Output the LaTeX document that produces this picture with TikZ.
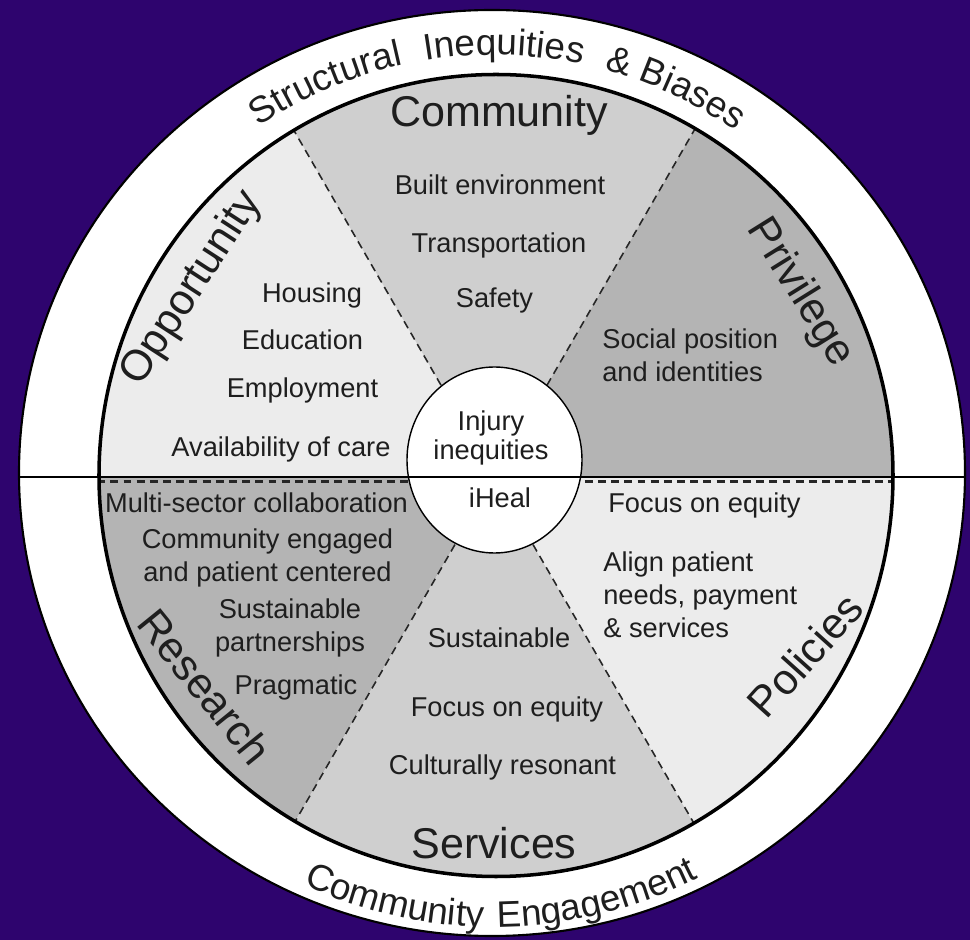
\documentclass[tikz,border=0pt]{standalone}
\usepackage{fontspec}
\setmainfont{Liberation Sans}
\usetikzlibrary{decorations.text}

\definecolor{bgpurple}{RGB}{46,4,110}
\definecolor{lightsec}{RGB}{236,236,236}
\definecolor{midsec}{RGB}{207,207,207}
\definecolor{darksec}{RGB}{180,180,180}
\definecolor{txtgray}{RGB}{30,30,30}

\newcommand{\itemfont}{\fontsize{15.5}{18.8}\selectfont}
\newcommand{\titlefont}{\fontsize{24.5}{29}\selectfont}
\newcommand{\ringfont}{\fontsize{21}{25}\selectfont}

\begin{document}
\begin{tikzpicture}[
    item/.style = {font=\itemfont, text=txtgray, inner sep=0pt},
    title/.style = {font=\titlefont, text=txtgray, inner sep=0pt},
    divider/.style = {dash pattern=on 4.5pt off 3pt, line width=0.9pt, black!85},
  ]
    %define origin, baselines of the ring texts
    \coordinate (O) at (0,0);
    \def\Rt{8.44}% top ring text
    \def\Rb{9.0}% bottom ring text

    % background
    \fill[bgpurple] (-9.88,-9.26) rectangle (9.52,9.54);
    \useasboundingbox (-9.88,-9.26) rectangle (9.52,9.54);

    % outer ring
    \draw[fill=white, line width=1.2pt] (-0.04,0.08) ellipse [x radius=9.46, y radius=9.26];

    % sectors
    \begin{scope}
        \clip (0.04,0.03) ellipse [x radius=7.94, y radius=8.02];
        \fill[lightsec] (O) -- (120:12) -- (150:12) -- (180:12) -- cycle;
        \fill[midsec]   (O) -- (60:12) -- (90:12) -- (120:12) -- cycle;
        \fill[darksec]  (O) -- (0:12) -- (30:12) -- (60:12) -- cycle;
        \fill[darksec]  (O) -- (180:12) -- (210:12) -- (240:12) -- cycle;
        \fill[midsec]   (O) -- (240:12) -- (270:12) -- (300:12) -- cycle;
        \fill[lightsec] (O) -- (300:12) -- (330:12) -- (360:12) -- cycle;
        % dividers
        \foreach \a/\rad in {60/2.12, 120/2.12, 240/1.56, 300/1.56}
            \draw[divider] (\a:\rad) -- (\a:8.2);
        % lower edge of the middle line
        \draw[divider, line width=1.2pt] (-8.2,-0.09) -- (8.2,-0.09);
    \end{scope}
    \draw[line width=2pt] (0.04,0.03) ellipse [x radius=7.94, y radius=8.02];

    % centre circle
    \draw[fill=white, line width=0.8pt] (0.01,0.34) ellipse [x radius=1.75, y radius=1.86];

    % middle line
    \draw[line width=1.7pt] (-9.5,0) -- (9.42,0);

    % centre texts (base = last line)
    \node[item, align=center, anchor=base, font=\fontsize{15.5}{17}\selectfont] (injury) at (-0.06,0.34) {Injury\\inequities};
    \node[item, anchor=base] (iheal) at (0.12,-0.62) {iHeal};

    % opportunity
    \node[title, rotate=57] (opportunity) at (-6.04,3.77) {Opportunity};
    \node[item, anchor=base] (housing) at (-3.64,3.48) {Housing};
    \node[item, anchor=base] (education) at (-3.83,2.54) {Education};
    \node[item, anchor=base] (employment) at (-3.83,1.58) {Employment};
    \node[item, anchor=base] (care) at (-4.26,0.40) {Availability of care};

    % community
    \node[title, anchor=base] (community) at (0.1,7.0) {Community};
    \node[item, anchor=base] (built) at (0.12,5.64) {Built environment};
    \node[item, anchor=base] (transport) at (0.1,4.48) {Transportation};
    \node[item, anchor=base] (safety) at (0.01,3.38) {Safety};

    % privilege
    \node[title, rotate=-58] (privilege) at (6.12,3.68) {Privilege};
    \node[item, align=left, anchor=base west] (social) at (2.16,1.9) {Social position\\and identities};

    % research
    \node[title, rotate=-51] (research) at (-5.78,-4.19) {Research};
    \node[item, anchor=base] (multi) at (-4.75,-0.72) {Multi-sector collaboration};
    \node[item, align=center, anchor=base] (engaged) at (-4.53,-2.1) {Community engaged\\and patient centered};
    \node[item, align=center, anchor=base] (partner) at (-4.08,-3.5) {Sustainable\\partnerships};
    \node[item, anchor=base] (pragmatic) at (-3.96,-4.36) {Pragmatic};

    % services
    \node[title, anchor=base] (services) at (0,-7.62) {Services};
    \node[item, anchor=base] (sustain) at (0.1,-3.42) {Sustainable};
    \node[item, anchor=base] (equity) at (0.26,-4.8) {Focus on equity};
    \node[item, anchor=base] (culture) at (0.17,-5.96) {Culturally resonant};

    % policies
    \node[title, rotate=48] (policies) at (6.22,-3.56) {Policies};
    \node[item, anchor=base west] (focus) at (2.28,-0.72) {Focus on equity};
    \node[item, align=left, anchor=base west] (align) at (2.18,-3.22) {Align patient\\needs, payment\\\& services};

    % ring labels
    \path[decorate, decoration={text along path, text color=txtgray,
        text align=center,
        text={|\ringfont|Structural{\kern7pt} Inequities{\kern7pt} {\&} Biases}}]
        (126:\Rt) arc [start angle=126, end angle=53, radius=\Rt];
    \path[decorate, decoration={text along path, text color=txtgray,
        text align=center,
        text={|\ringfont|Community{\kern2pt} Engagement}}]
        (240:\Rb) arc [start angle=240, end angle=302, radius=\Rb];
\end{tikzpicture}
\end{document}
